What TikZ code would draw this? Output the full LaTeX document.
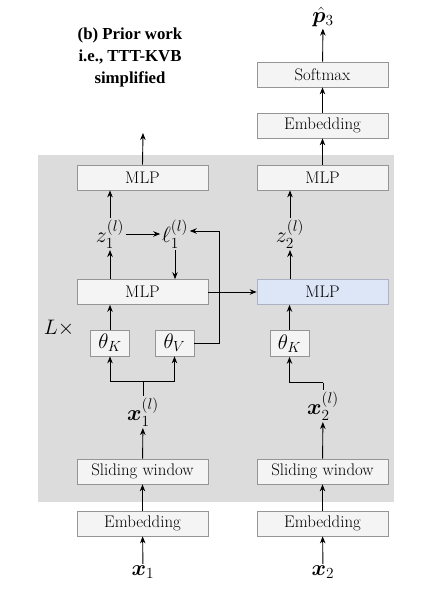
\RequirePackage{fix-cm}
\documentclass[tikz,border=0pt]{standalone}
\usepackage{amsmath}
\usepackage{bm}
\usepackage{fontspec}
\newfontfamily\titlefont{Liberation Serif}
\usetikzlibrary{arrows.meta}
\definecolor{bggray}{HTML}{DCDCDC}
\definecolor{boxfill}{HTML}{F4F4F4}
\definecolor{boxdraw}{HTML}{959595}
\definecolor{bluefill}{HTML}{DCE6F7}
\definecolor{bluedraw}{HTML}{A9B3C4}
\newcommand\mlab[1]{{\fontsize{21}{25}\selectfont$#1$}}
\newcommand\blab[1]{{\fontsize{22}{26}\selectfont$#1$}}
\tikzset{
  blk/.style={draw=boxdraw, fill=boxfill, line width=0.7pt, minimum width=131pt, minimum height=25pt, inner sep=0pt},
  bblk/.style={blk, draw=bluedraw, fill=bluefill},
  sblk/.style={blk, minimum width=39pt, minimum height=26pt},
  lbl/.style={inner sep=1.5pt},
  arr/.style={-{Stealth[length=7pt,width=5.5pt]}, line width=0.9pt},
  ln/.style={line width=0.9pt}
}
\begin{document}
\begin{tikzpicture}[x=1pt,y=-1pt,font=\fontsize{16.8}{20}\selectfont]
\useasboundingbox (0,0) rectangle (430,605);
\fill[bggray] (38,155) rectangle (394,502);

\node[font=\titlefont\bfseries\fontsize{16.8}{22}\selectfont, align=center] (title) at (130,57) {(b) Prior work\\i.e., TTT-KVB\\simplified};

% left column
\node[blk] (mlpTop) at (142.5,177.5) {MLP};
\node[blk] (mlpMid) at (142.5,292) {MLP};
\node[sblk] (thK) at (110,343) {\mlab{\theta_K}};
\node[sblk] (thV) at (174.5,343) {\mlab{\theta_V}};
\node[blk] (slide1) at (142.5,471.5) {Sliding window};
\node[blk] (emb1) at (142.5,523.5) {Embedding};
\node[lbl] (z1) at (110,234) {\blab{z_1^{(l)}}};
\node[lbl] (l1) at (175,234) {\blab{\ell_1^{(l)}}};
\node[lbl] (x1l) at (143,412) {\blab{\bm{x}_1^{(l)}}};
\node[lbl] (x1) at (143,572) {\blab{\bm{x}_1}};
\node at (59,328) (Lx) {\mlab{L\times}};
\coordinate (outL) at (143,133);
\coordinate (split1) at (143,381.7);
\coordinate (fb) at (219.5,231);

% right column
\node[blk] (soft) at (322.5,74.5) {Softmax};
\node[blk] (emb3) at (322.5,125.5) {Embedding};
\node[blk] (mlpTop2) at (322.5,177.5) {MLP};
\node[bblk] (mlpB) at (322.5,292) {MLP};
\node[sblk] (thK2) at (289.5,343.5) {\mlab{\theta_K}};
\node[blk] (slide2) at (322.5,471.5) {Sliding window};
\node[blk] (emb2) at (322.5,523.5) {Embedding};
\node[lbl] (z2) at (290,234) {\blab{z_2^{(l)}}};
\node[lbl] (x2l) at (323,406) {\blab{\bm{x}_2^{(l)}}};
\node[lbl] (x2) at (323,572) {\blab{\bm{x}_2}};
\node[lbl] (p3) at (323,17) {\blab{\hat{\bm{p}}_3}};
\coordinate (split2) at (323,382.7);

% left connectors
\draw[arr] (x1) -- (emb1);
\draw[arr] (emb1) -- (slide1);
\draw[arr] (slide1) -- (x1l);
\draw[ln] (x1l.north) -- (split1);
\draw[arr] (split1) -| (thK.south);
\draw[arr] (split1) -| (thV.south);
\draw[arr] (thK.north) -- (thK.north |- mlpMid.south);
\draw[arr] (z1.north |- mlpMid.north) -- (z1.south);
\draw[arr] (z1.north) -- (z1.north |- mlpTop.south);
\draw[arr] (z1.east) -- (l1.west);
\draw[arr] (l1.south) -- (l1.south |- mlpMid.north);
\draw[ln] (thV.east) -| (fb);
\draw[arr] (fb) -- (l1.east |- fb);
\draw[arr] (mlpTop.north) -- (outL);
\draw[arr] (mlpMid.east) -- (mlpB.west);

% right connectors
\draw[arr] (x2) -- (emb2);
\draw[arr] (emb2) -- (slide2);
\draw[arr] (slide2) -- (x2l);
\draw[ln] (x2l.north) -- (split2);
\draw[arr] (split2) -| (thK2.south);
\draw[arr] (thK2.north) -- (thK2.north |- mlpB.south);
\draw[arr] (z2.north |- mlpB.north) -- (z2.south);
\draw[arr] (z2.north) -- (z2.north |- mlpTop2.south);
\draw[arr] (mlpTop2) -- (emb3);
\draw[arr] (emb3) -- (soft);
\draw[arr] (soft) -- (p3);
\end{tikzpicture}
\end{document}
